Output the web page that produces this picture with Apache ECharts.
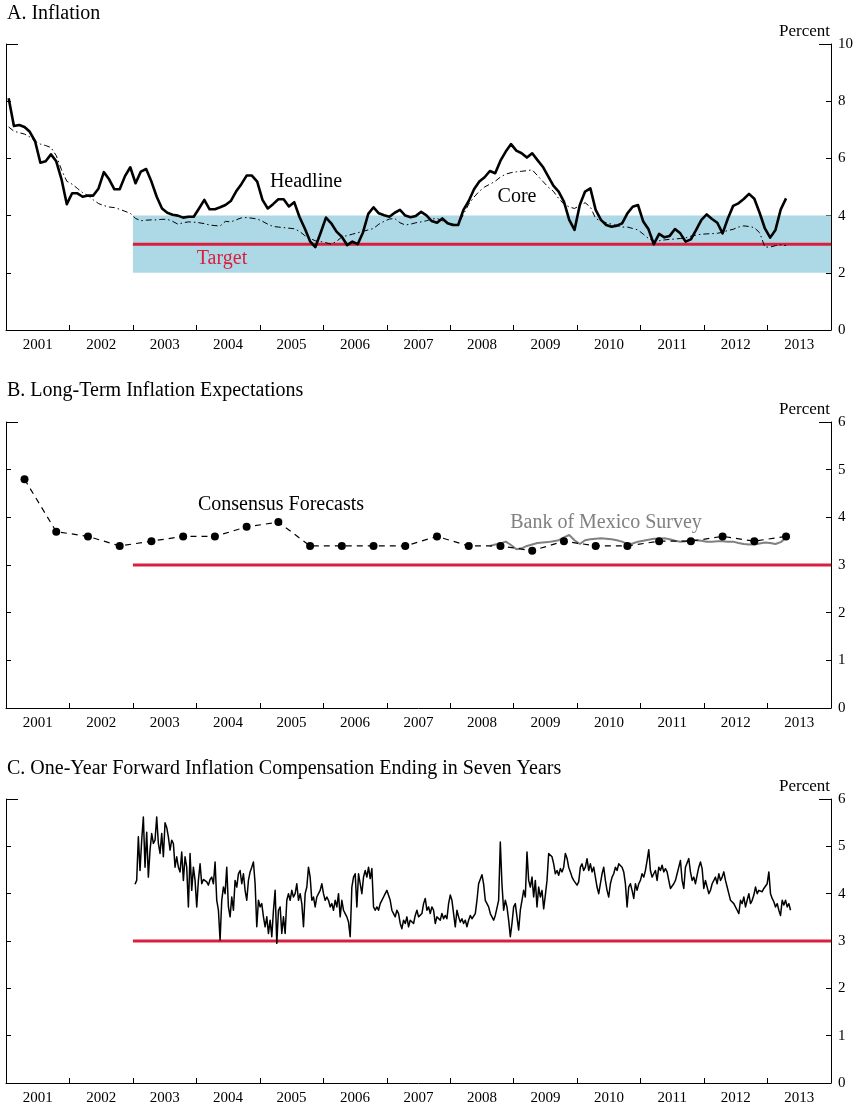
<!DOCTYPE html>
<html>
<head>
<meta charset="utf-8">
<title>Mexico: Inflation and Inflation Expectations</title>
<script src="https://cdn.jsdelivr.net/npm/echarts@6.0.0/dist/echarts.min.js"></script>
<style>
  html, body { margin: 0; padding: 0; background: #fff; }
  #chart { width: 856px; height: 1107px; }
</style>
</head>
<body>
<div id="chart"></div>
<script>
// ---------- data ----------
const years = ['2001', '2002', '2003', '2004', '2005', '2006', '2007',
               '2008', '2009', '2010', '2011', '2012', '2013'];

// Panel A: 12-month inflation, monthly from January 2001 to April 2013 (percent)
const headlineStart = [2001, 1];
const headline = [
  8.10, 7.13, 7.17, 7.10, 6.93, 6.60, 5.85, 5.90, 6.14, 5.90,
  5.27, 4.40, 4.78, 4.78, 4.66, 4.70, 4.70, 4.95, 5.52, 5.27,
  4.92, 4.92, 5.38, 5.69, 5.13, 5.54, 5.63, 5.19, 4.66, 4.25,
  4.10, 4.03, 4.00, 3.93, 3.96, 3.96, 4.25, 4.55, 4.22, 4.22,
  4.29, 4.37, 4.51, 4.84, 5.10, 5.40, 5.40, 5.19, 4.55, 4.25,
  4.40, 4.57, 4.57, 4.32, 4.47, 3.95, 3.55, 3.10, 2.90, 3.40,
  3.93, 3.73, 3.44, 3.26, 2.97, 3.09, 3.00, 3.41, 4.06, 4.29,
  4.08, 4.01, 3.96, 4.10, 4.20, 4.00, 3.94, 3.99, 4.13, 4.01,
  3.81, 3.75, 3.90, 3.73, 3.67, 3.67, 4.20, 4.51, 4.92, 5.19,
  5.34, 5.56, 5.48, 5.92, 6.24, 6.50, 6.27, 6.18, 6.03, 6.18,
  5.94, 5.71, 5.38, 5.05, 4.84, 4.49, 3.85, 3.50, 4.37, 4.84,
  4.95, 4.20, 3.85, 3.67, 3.61, 3.65, 3.73, 4.08, 4.31, 4.37,
  3.79, 3.52, 3.00, 3.36, 3.24, 3.29, 3.53, 3.38, 3.09, 3.17,
  3.50, 3.85, 4.04, 3.88, 3.75, 3.38, 3.90, 4.34, 4.43, 4.58,
  4.76, 4.59, 4.10, 3.55, 3.23, 3.50, 4.22, 4.60
];
const core = [
  7.10, 6.95, 6.90, 6.85, 6.75, 6.60, 6.50, 6.45, 6.38, 6.10,
  5.60, 5.20, 5.10, 4.95, 4.80, 4.70, 4.55, 4.42, 4.35, 4.30,
  4.28, 4.22, 4.15, 4.08, 3.90, 3.82, 3.84, 3.85, 3.85, 3.87,
  3.87, 3.80, 3.70, 3.75, 3.78, 3.77, 3.75, 3.72, 3.67, 3.65,
  3.64, 3.80, 3.78, 3.85, 3.92, 3.93, 3.91, 3.88, 3.80, 3.70,
  3.62, 3.60, 3.58, 3.56, 3.54, 3.45, 3.30, 3.20, 3.12, 3.09,
  3.05, 3.00, 3.10, 3.25, 3.30, 3.35, 3.40, 3.45, 3.50, 3.55,
  3.70, 3.80, 3.88, 3.90, 3.75, 3.67, 3.70, 3.75, 3.78, 3.82,
  3.88, 3.90, 3.82, 3.76, 3.70, 3.67, 4.05, 4.40, 4.65, 4.85,
  5.00, 5.10, 5.20, 5.35, 5.45, 5.50, 5.53, 5.55, 5.57, 5.60,
  5.40, 5.20, 5.00, 4.85, 4.60, 4.40, 4.30, 4.25, 4.35, 4.45,
  4.30, 3.90, 3.80, 3.75, 3.70, 3.65, 3.60, 3.60, 3.55, 3.50,
  3.35, 3.20, 3.10, 3.12, 3.15, 3.17, 3.18, 3.20, 3.22, 3.28,
  3.32, 3.35, 3.36, 3.37, 3.38, 3.42, 3.48, 3.52, 3.60, 3.64,
  3.62, 3.58, 3.40, 2.90, 2.90, 2.95, 2.98, 2.95
];

// Inflation target and variability band (percent), in force from 2003
const targetStart = 2003;
const targetRate = 3;
const targetBand = [2, 4];

// Panel B: long-term inflation expectations (percent)
const consensusDates = [
  '2001-04', '2001-10', '2002-04', '2002-10', '2003-04', '2003-10', '2004-04',
  '2004-10', '2005-04', '2005-10', '2006-04', '2006-10', '2007-04', '2007-10',
  '2008-04', '2008-10', '2009-04', '2009-10', '2010-04', '2010-10', '2011-04',
  '2011-10', '2012-04', '2012-10', '2013-04'
];
const consensusValues = [
  4.8, 3.7, 3.6, 3.4, 3.5, 3.6, 3.6, 3.8, 3.9, 3.4, 3.4, 3.4, 3.4,
  3.6, 3.4, 3.4, 3.3, 3.5, 3.4, 3.4, 3.5, 3.5, 3.6, 3.5, 3.6
];
const banxicoStart = [2008, 8];
const banxicoValues = [
  3.40, 3.43, 3.45, 3.49, 3.42, 3.33, 3.35, 3.40, 3.43, 3.46,
  3.47, 3.48, 3.50, 3.52, 3.58, 3.63, 3.52, 3.44, 3.52, 3.54,
  3.55, 3.56, 3.55, 3.54, 3.52, 3.49, 3.44, 3.45, 3.49, 3.51,
  3.53, 3.55, 3.55, 3.56, 3.54, 3.51, 3.49, 3.50, 3.53, 3.52,
  3.51, 3.49, 3.49, 3.50, 3.50, 3.49, 3.49, 3.46, 3.44, 3.43,
  3.43, 3.45, 3.47, 3.46, 3.44, 3.48, 3.57
];

// Panel C: one-year forward inflation compensation ending in seven years,
// sampled every 9.6 days from mid-January 2003 (percent)
const compStart = 2003.033;
const compStepDays = 9.6;
const compValues = [
  4.20, 4.28, 5.20, 4.49, 5.13, 5.62, 4.56, 5.30, 4.35, 4.92,
  5.27, 5.06, 5.13, 5.62, 5.06, 4.85, 5.27, 4.78, 5.50, 5.40,
  5.20, 4.92, 5.13, 5.06, 4.56, 4.78, 4.56, 4.46, 4.88, 4.28,
  4.78, 4.56, 3.72, 4.85, 4.07, 4.56, 4.28, 3.72, 4.28, 4.63,
  4.21, 4.30, 4.32, 4.25, 4.18, 4.30, 4.35, 4.21, 4.67, 3.86,
  3.65, 3.02, 3.86, 4.14, 4.00, 4.56, 3.72, 3.51, 3.93, 3.65,
  4.28, 4.14, 4.42, 4.49, 4.21, 4.42, 4.07, 3.86, 4.28, 4.46,
  4.56, 4.67, 4.21, 3.30, 3.86, 3.72, 3.79, 3.51, 3.30, 3.51,
  3.16, 3.44, 3.09, 3.65, 4.07, 2.95, 3.65, 3.72, 3.16, 3.51,
  3.16, 3.86, 4.00, 3.86, 4.07, 3.93, 4.00, 4.21, 3.86, 4.00,
  3.79, 3.30, 4.00, 4.14, 4.56, 4.35, 3.86, 3.93, 3.72, 3.93,
  4.00, 4.07, 4.21, 4.00, 3.86, 3.93, 3.86, 3.72, 3.79, 3.65,
  3.86, 3.72, 4.00, 3.51, 3.86, 3.65,
  3.58, 3.51, 3.40, 3.09, 4.14, 4.35, 4.42, 3.72, 4.42, 4.21,
  4.00, 4.35, 4.49, 4.35, 4.56, 4.32, 4.53, 3.72, 3.65, 3.72,
  3.65, 3.79, 3.86, 3.93, 4.00, 4.07, 4.11, 3.86, 3.65, 3.58,
  3.51, 3.65, 3.58, 3.37, 3.26, 3.44, 3.37, 3.51, 3.30, 3.44,
  3.44, 3.37, 3.54, 3.65, 3.51, 3.47, 3.58, 3.79, 3.90, 3.65,
  3.72, 3.58, 3.72, 3.65, 3.37, 3.51, 3.51, 3.44, 3.58, 3.47,
  3.54, 3.47, 3.79, 3.97, 3.86, 3.58, 3.30, 3.65, 3.51, 3.40,
  3.47, 3.37, 3.44, 3.30, 3.44, 3.54, 3.47, 3.44, 3.58, 3.86,
  4.21, 4.25, 4.40, 4.20, 3.86, 3.79, 3.72, 3.58, 3.51, 3.44,
  3.54, 3.51, 3.86, 5.09, 4.20, 3.65, 3.86, 3.72, 3.44, 3.09,
  3.37, 3.72, 3.79, 3.51, 3.23, 3.65, 3.86, 4.07, 3.93, 4.88,
  4.28, 4.14, 4.35, 3.93, 4.28, 3.72, 4.14, 3.93, 4.07, 3.68,
  3.97, 4.28, 4.85, 4.88, 4.78, 4.63, 4.42, 4.49, 4.39, 4.53,
  4.46, 4.56,
  4.85, 4.75, 4.56, 4.46, 4.35, 4.28, 4.25, 4.18, 4.25, 4.56,
  4.63, 4.49, 4.56, 4.74, 4.49, 4.63, 4.46, 4.56, 4.35, 4.14,
  4.00, 4.21, 4.42, 4.56, 4.28, 4.07, 3.93, 4.21, 4.35, 4.42,
  4.56, 4.49, 4.63, 4.67, 4.56, 4.46, 4.21, 3.72, 4.14, 4.21,
  4.07, 3.90, 4.21, 4.07, 4.21, 4.28, 4.42, 4.35, 4.49, 4.70,
  4.93, 4.49, 4.35, 4.42, 4.49, 4.28, 4.56, 4.49, 4.60, 4.46,
  4.53, 4.46, 4.28, 4.11, 4.14, 4.21, 4.28, 4.42, 4.56, 4.70,
  4.28, 4.11, 4.56, 4.60, 4.74, 4.46, 4.28, 4.35, 4.21, 4.39,
  4.56, 4.67, 4.53, 4.11, 4.28, 4.14, 4.00, 4.07, 4.21, 4.25,
  4.35, 4.21, 4.42, 4.28, 4.35, 4.46, 4.28, 4.14, 4.00, 3.86,
  3.90, 3.79, 3.76, 3.65, 3.58, 3.86, 3.79, 3.93, 3.72, 3.86,
  4.00, 3.79, 3.86, 3.97, 4.14, 4.00, 4.07, 4.07, 4.04, 4.11,
  4.07, 4.21, 4.46, 4.00, 3.90, 3.83, 3.72, 3.79, 3.65, 3.54,
  3.86, 3.76, 3.86, 3.72, 3.79, 3.65
];

// ---------- helpers ----------
const X_MIN = 2001, X_MAX = 2014;
const FONT = '"Liberation Serif", "Times New Roman", Times, serif';
const RED = '#D91E3E';
const BAND = '#ADD8E6';

// mid-month position in decimal years
const midMonth = (y, m) => y + (m - 0.5) / 12;
const monthly = (start, values) =>
  values.map((v, i) => [midMonth(start[0], start[1] + i), v]);
const fromYM = s => { const [y, m] = s.split('-').map(Number); return midMonth(y, m); };

const headlineData = monthly(headlineStart, headline);
const coreData = monthly(headlineStart, core);
const consensusData = consensusDates.map((d, i) => [fromYM(d), consensusValues[i]]);
const banxicoData = monthly(banxicoStart, banxicoValues);
const compData = compValues.map((v, i) => [compStart + i * compStepDays / 365.25, v]);
const targetLine = [[targetStart, targetRate], [X_MAX, targetRate]];

// ---------- layout ----------
const grids = [
  { left: 6, right: 25, top: 44, height: 286 },
  { left: 6, right: 25, top: 422, height: 286 },
  { left: 6, right: 25, top: 799, height: 284 }
];
const yRanges = [[0, 10, 2], [0, 6, 1], [0, 6, 1]];

const xAxes = [], yAxes = [];
grids.forEach((g, gi) => {
  xAxes.push({
    gridIndex: gi, type: 'value', min: X_MIN, max: X_MAX, interval: 1,
    position: 'bottom',
    axisLine: { lineStyle: { color: '#000', width: 1 } },
    axisTick: { inside: true, length: 5, lineStyle: { color: '#000', width: 1 } },
    axisLabel: { show: false }, splitLine: { show: false }
  });
  xAxes.push({
    gridIndex: gi, type: 'category', data: years, position: 'bottom',
    boundaryGap: true,
    axisLine: { show: false }, axisTick: { show: false }, splitLine: { show: false },
    axisLabel: { interval: 0, fontFamily: FONT, fontSize: 15, color: '#000', margin: 8 }
  });
  const [lo, hi, step] = yRanges[gi];
  const base = {
    gridIndex: gi, type: 'value', min: lo, max: hi, interval: step,
    splitLine: { show: false },
    axisLine: { show: true, lineStyle: { color: '#000', width: 1 } },
    axisTick: { show: true, inside: true, length: 5, lineStyle: { color: '#000', width: 1 } }
  };
  yAxes.push(Object.assign({}, base, {
    position: 'right',
    axisLabel: { fontFamily: FONT, fontSize: 15, color: '#000', margin: 7 }
  }));
  yAxes.push(Object.assign({}, base, { position: 'left', axisLabel: { show: false } }));
  // longer tick marking the top of each vertical scale
  ['right', 'left'].forEach(pos => {
    yAxes.push({
      gridIndex: gi, type: 'value', min: lo, max: hi, interval: hi - lo, position: pos,
      splitLine: { show: false }, axisLine: { show: false }, axisLabel: { show: false },
      axisTick: { show: true, inside: true, length: 12, lineStyle: { color: '#000', width: 1 } }
    });
  });
});

const lineBase = { type: 'line', symbol: 'none', animation: false, silent: true };

const series = [
  // Panel A
  Object.assign({}, lineBase, {
    name: 'Target', xAxisIndex: 0, yAxisIndex: 0, data: targetLine, z: 2,
    lineStyle: { color: RED, width: 3 },
    markArea: {
      silent: true, z: 1,
      itemStyle: { color: BAND, opacity: 1 },
      data: [[{ xAxis: targetStart, yAxis: targetBand[0] }, { xAxis: X_MAX, yAxis: targetBand[1] }]]
    }
  }),
  Object.assign({}, lineBase, {
    name: 'Core', xAxisIndex: 0, yAxisIndex: 0, data: coreData, z: 3,
    lineStyle: { color: '#000', width: 1, type: [6, 3, 1.5, 3] }
  }),
  Object.assign({}, lineBase, {
    name: 'Headline', xAxisIndex: 0, yAxisIndex: 0, data: headlineData, z: 4,
    lineStyle: { color: '#000', width: 2.6, join: 'round' }
  }),
  // Panel B
  Object.assign({}, lineBase, {
    name: 'Target B', xAxisIndex: 2, yAxisIndex: 4, data: targetLine, z: 2,
    lineStyle: { color: RED, width: 3 }
  }),
  Object.assign({}, lineBase, {
    name: 'Bank of Mexico Survey', xAxisIndex: 2, yAxisIndex: 4, data: banxicoData, z: 3,
    lineStyle: { color: '#808080', width: 2 }
  }),
  Object.assign({}, lineBase, {
    name: 'Consensus Forecasts', xAxisIndex: 2, yAxisIndex: 4, data: consensusData, z: 4,
    symbol: 'circle', symbolSize: 8, showSymbol: true,
    itemStyle: { color: '#000' },
    lineStyle: { color: '#000', width: 1.2, type: [6, 5] }
  }),
  // Panel C
  Object.assign({}, lineBase, {
    name: 'Target C', xAxisIndex: 4, yAxisIndex: 8, data: targetLine, z: 2,
    lineStyle: { color: RED, width: 3 }
  }),
  Object.assign({}, lineBase, {
    name: 'Forward compensation', xAxisIndex: 4, yAxisIndex: 8, data: compData, z: 3,
    lineStyle: { color: '#000', width: 1.5, join: 'round' }
  })
];

const text = (str, x, y, opts = {}) => ({
  type: 'text', x, y, silent: true, z: 100,
  style: {
    text: str,
    font: (opts.size || 20) + 'px ' + FONT,
    fill: opts.color || '#000',
    textAlign: opts.align || 'center', align: opts.align || 'center',
    textVerticalAlign: 'middle', verticalAlign: 'middle'
  }
});

const graphics = [
  text('A. Inflation', 7, 14, { align: 'left' }),
  text('B. Long-Term Inflation Expectations', 7, 391, { align: 'left' }),
  text('C. One-Year Forward Inflation Compensation Ending in Seven Years', 7, 769, { align: 'left' }),
  text('Percent', 830, 32, { align: 'right', size: 17 }),
  text('Percent', 830, 410, { align: 'right', size: 17 }),
  text('Percent', 830, 787, { align: 'right', size: 17 }),
  text('Headline', 306, 182),
  text('Core', 517, 197),
  text('Target', 222, 259, { color: RED }),
  text('Consensus Forecasts', 281, 505),
  text('Bank of Mexico Survey', 606, 523, { color: '#808080' })
];

const chart = echarts.init(document.getElementById('chart'), null, { renderer: 'canvas' });
chart.setOption({
  animation: false,
  backgroundColor: '#fff',
  grid: grids,
  xAxis: xAxes,
  yAxis: yAxes,
  series: series,
  graphic: graphics
});
</script>
</body>
</html>
